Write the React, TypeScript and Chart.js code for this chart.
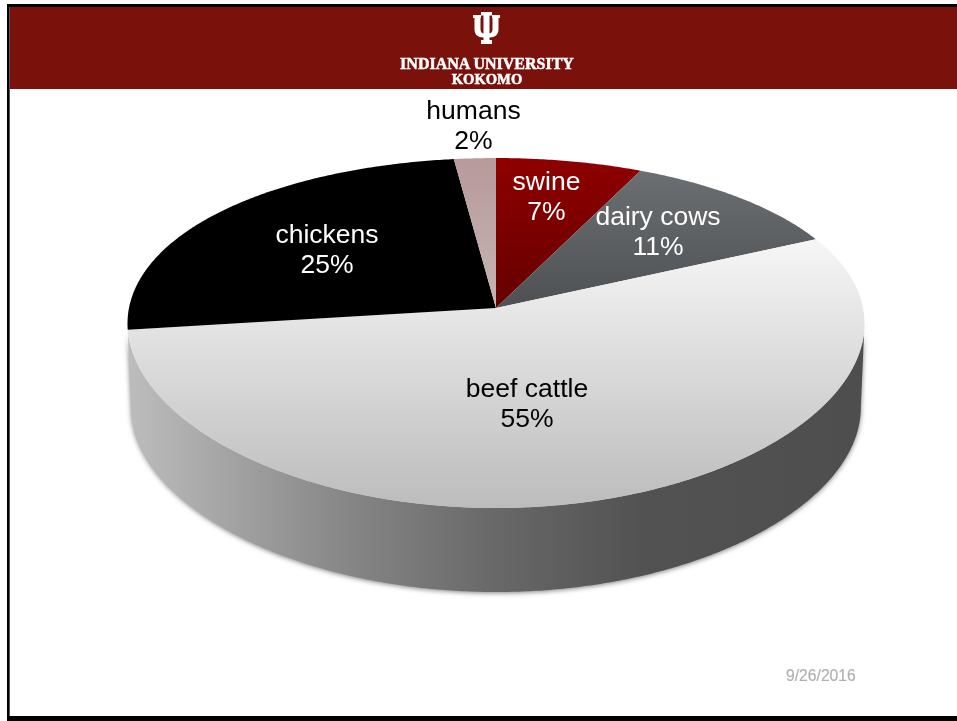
import React, { useEffect, useRef } from "react";
import { Chart, registerables, ArcElement, PieController } from "chart.js";

// Share of the total, by source
const categories = ["swine", "dairy cows", "beef cattle", "chickens", "humans"];
const shares = [7, 11, 55, 25, 2];

// Text colour and centre of each slice's two-line label
const labelColors = ["#ffffff", "#ffffff", "#000000", "#ffffff", "#000000"];
const labelCentres = [
  { x: 546.5, y: 198 },
  { x: 658, y: 233 },
  { x: 527, y: 405 },
  { x: 327, y: 251 },
  { x: 473.5, y: 127 },
];

// Tilted-disc projection: unit circle -> perspective ellipse around the pie centre
const TILT_Y = 0.143;
const TILT_X = 0.09;
const STRETCH_X = 367 / 220;
const STRETCH_Y = 171.4 / 220;
const WALL_DEPTH = 84;
const WALL_NARROWING = 0.99;

const project = (cx: number, cy: number, r: number, a: number, narrow = 1, drop = 0) => {
  const u = Math.cos(a);
  const v = Math.sin(a);
  return {
    x: cx + (r * STRETCH_X * narrow * u) / (1 - TILT_X * v),
    y: cy + drop + (r * STRETCH_Y * v) / (1 - TILT_Y * v),
  };
};

let wallFill: CanvasGradient | null = null;

// Arc that paints itself as a tilted wedge, with a wall under its front edge
class TiltedArc extends ArcElement {
  static id = "tiltedArc";

  draw(ctx: CanvasRenderingContext2D) {
    const { x, y, startAngle, endAngle, outerRadius } = this as any;
    const frontStart = Math.max(startAngle, Math.asin(TILT_X));
    const frontEnd = Math.min(endAngle, Math.PI - Math.asin(TILT_X));
    const STEP = Math.PI / 360;

    ctx.save();
    if (frontEnd > frontStart && wallFill) {
      ctx.beginPath();
      for (let a = frontStart; a < frontEnd; a += STEP) {
        const p = project(x, y, outerRadius, a);
        ctx.lineTo(p.x, p.y);
      }
      for (let a = frontEnd; a > frontStart; a -= STEP) {
        const p = project(x, y, outerRadius, a, WALL_NARROWING, WALL_DEPTH);
        ctx.lineTo(p.x, p.y);
      }
      ctx.closePath();
      ctx.fillStyle = wallFill;
      ctx.shadowColor = "rgba(0,0,0,0.5)";
      ctx.shadowBlur = 5;
      ctx.shadowOffsetY = 1;
      ctx.fill();
      ctx.shadowColor = "transparent";
      ctx.shadowBlur = 0;
      ctx.shadowOffsetY = 0;
    }

    ctx.beginPath();
    ctx.moveTo(x, y);
    for (let a = startAngle; a < endAngle; a += STEP) {
      const p = project(x, y, outerRadius, a);
      ctx.lineTo(p.x, p.y);
    }
    const last = project(x, y, outerRadius, endAngle);
    ctx.lineTo(last.x, last.y);
    ctx.closePath();
    ctx.fillStyle = (this as any).options.backgroundColor;
    ctx.fill();
    ctx.restore();
  }
}

class TiltedPieController extends PieController {
  static id = "tiltedPie";
  static defaults = { ...PieController.defaults, dataElementType: "tiltedArc" };
}

const sliceLabels = {
  id: "sliceLabels",
  afterDatasetsDraw(chart: any) {
    const { ctx } = chart;
    ctx.save();
    ctx.font = '26.5px "Liberation Sans"';
    ctx.textAlign = "center";
    ctx.textBaseline = "middle";
    categories.forEach((name, i) => {
      const c = labelCentres[i];
      ctx.fillStyle = labelColors[i];
      ctx.fillText(name, c.x, c.y - 15);
      ctx.fillText(`${shares[i]}%`, c.x, c.y + 15);
    });
    ctx.restore();
  },
};

Chart.register(...registerables, TiltedArc, TiltedPieController);

const verticalFill = (ctx: CanvasRenderingContext2D, y0: number, y1: number, a: string, b: string) => {
  const g = ctx.createLinearGradient(0, y0, 0, y1);
  g.addColorStop(0, a);
  g.addColorStop(1, b);
  return g;
};

export default function App() {
  const ref = useRef<HTMLCanvasElement>(null);

  useEffect(() => {
    const canvas = ref.current!;
    const ctx = canvas.getContext("2d")!;

    wallFill = ctx.createLinearGradient(127, 0, 864, 0);
    wallFill.addColorStop(0, "#bdbdbd");
    wallFill.addColorStop(0.3, "#868686");
    wallFill.addColorStop(0.5, "#686868");
    wallFill.addColorStop(0.7, "#525252");
    wallFill.addColorStop(1, "#4e4e4e");

    const chart = new Chart(canvas, {
      type: "tiltedPie" as any,
      data: {
        labels: categories,
        datasets: [
          {
            data: shares,
            clip: false,
            borderWidth: 0,
            backgroundColor: [
              verticalFill(ctx, 160, 308, "#8e0000", "#650000"),
              verticalFill(ctx, 172, 308, "#6c6f72", "#4e5154"),
              verticalFill(ctx, 245, 508, "#f5f5f5", "#bcbcbc"),
              "#000000",
              verticalFill(ctx, 160, 308, "#b89a9b", "#c6b4b4"),
            ],
          } as any,
        ],
      },
      options: {
        responsive: false,
        maintainAspectRatio: false,
        animation: false,
        rotation: 0,
        layout: { padding: { left: 127, right: 92, top: 88, bottom: 193 } },
        plugins: { legend: { display: false }, tooltip: { enabled: false } },
      } as any,
      plugins: [sliceLabels],
    });
    return () => chart.destroy();
  }, []);

  const abs = (left: number, top: number, width: number, height: number, background: string): React.CSSProperties => ({
    position: "absolute",
    left,
    top,
    width,
    height,
    background,
  });

  const wordmark = (top: number, size: number, text: string): React.CSSProperties & { children?: string } => ({
    position: "absolute",
    left: 387,
    width: 200,
    top,
    textAlign: "center",
    color: "#fff",
    font: `bold ${size}px/14px "Liberation Serif"`,
    WebkitTextStroke: "0.5px #fff",
    filter: "blur(0.4px)",
    whiteSpace: "pre",
  });

  return (
    <div style={{ position: "absolute", left: 0, top: 0, width: 957, height: 721, background: "#fff", overflow: "hidden" }}>
      <div style={abs(7, 4, 950, 3, "#000")} />
      <div style={abs(7, 4, 2, 717, "#000")} />
      <div style={abs(9, 7, 1, 714, "#555")} />
      <div style={abs(7, 716, 950, 5, "#000")} />
      <div style={abs(10, 7, 947, 82, "#7b110b")} />
      <svg
        style={{ position: "absolute", left: 470, top: 10, width: 34, height: 36, filter: "blur(0.4px)" }}
        viewBox="470 10 34 36"
      >
        <path
          fill="#fff"
          d="M481 12h11v3.500h-2.500V40h2.500v4h-11v-4h2.500V15.500H481z
             M473 15h8v3h-.5v11c0 2.500 1 4 3 4.500V37.500c-5.500 0 -9 -3 -9 -8V18H473z
             M500 15h-8v3h.5v11c0 2.500 -1 4 -3 4.500V37.500c5.500 0 9 -3 9 -8V18h1.500z"
        />
      </svg>
      <div style={wordmark(57, 16, "")}>INDIANA UNIVERSITY</div>
      <div style={wordmark(72, 14.6, "")}>KOKOMO</div>
      <canvas ref={ref} width={957} height={721} style={{ position: "absolute", left: 0, top: 0, display: "block" }} />
      <div
        style={{
          position: "absolute",
          left: 786,
          top: 667,
          color: "#b0b0b0",
          font: '15.7px/18px "Liberation Sans"',
          WebkitTextStroke: "0.2px #b0b0b0",
        }}
      >
        9/26/2016
      </div>
    </div>
  );
}
